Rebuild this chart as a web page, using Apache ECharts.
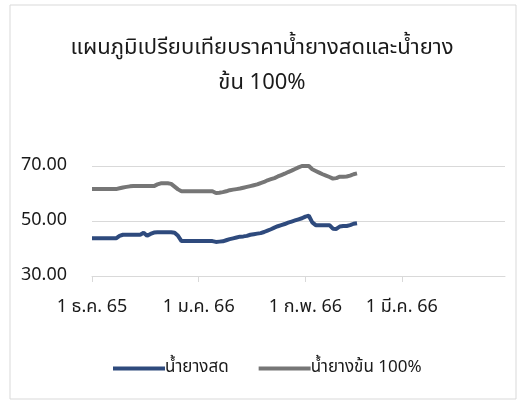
<!DOCTYPE html>
<html>
<head>
<meta charset="utf-8">
<script src="https://cdn.jsdelivr.net/npm/echarts@6/dist/echarts.min.js"></script>
<style>
    html, body { margin: 0; padding: 0; background: #fff; }
    #chart { width: 524px; height: 407px; }
</style>
</head>
<body>
<div id="chart"></div>
<script>
// ข้อมูล (อ่านจากภาพ) - ราคารายวันเริ่ม 1 ธ.ค. 65
const seriesNames = ['น้ำยางสด', 'น้ำยางข้น 100%']
const freshLatex = [
    43.7, 43.7, 43.7, 43.7, 43.7, 43.7, 43.7, 43.7,
    44.6, 45.0, 45.0, 45.0, 45.0, 45.0, 45.0,
    45.7, 44.6, 45.3, 45.8, 45.9, 45.9, 45.9, 45.9, 45.9, 45.7, 44.6,
    42.7, 42.7, 42.7, 42.7, 42.7, 42.7, 42.7, 42.7, 42.7, 42.7,
    42.4, 42.5, 42.6, 43.0, 43.4, 43.7, 44.0, 44.3, 44.4, 44.6, 45.0, 45.2, 45.4, 45.6,
    46.0, 46.5, 47.0, 47.6, 48.1, 48.5, 48.9, 49.4, 49.8, 50.2, 50.6, 51.0, 51.6, 51.9,
    49.5, 48.5, 48.5, 48.5, 48.5, 48.5, 47.2, 47.1, 48.0, 48.2, 48.2, 48.5, 49.0, 49.2
]
const concLatex = [
    61.6, 61.6, 61.6, 61.6, 61.6, 61.6, 61.6, 61.6,
    61.9, 62.2, 62.4, 62.6,
    62.7, 62.7, 62.7, 62.7, 62.7, 62.7, 62.7,
    63.3, 63.7, 63.7, 63.7, 63.5,
    62.5, 61.5, 60.8,
    60.8, 60.8, 60.8, 60.8, 60.8, 60.8, 60.8, 60.8, 60.8,
    60.2, 60.3, 60.5, 60.8, 61.2, 61.4, 61.6, 61.8, 62.1, 62.4, 62.7, 63.0,
    63.3, 63.8, 64.2, 64.8, 65.2, 65.6, 66.2, 66.7, 67.2, 67.8, 68.3, 68.9, 69.5, 70.0, 70.1, 70.0,
    68.8, 68.2, 67.6, 67.0, 66.5, 66.0, 65.4, 65.6, 66.1, 66.1, 66.2, 66.5, 67.0, 67.3
]
const monthLabels = {
    '2022-12-01': '1 ธ.ค. 65',
    '2023-01-01': '1 ม.ค. 66',
    '2023-02-01': '1 ก.พ. 66',
    '2023-03-01': '1 มี.ค. 66'
}

// แกนวันที่ 1 ธ.ค. 65 - 31 มี.ค. 66
const days = []
for (let t = Date.UTC(2022, 11, 1); t <= Date.UTC(2023, 2, 31); t += 86400000) {
    days.push(new Date(t).toISOString().slice(0, 10))
}

const thaiFont = 'Tahoma, "Noto Sans Thai", "Noto Sans", sans-serif'
const textColor = '#1a1a1a'
const chartInstance = echarts.init(document.getElementById('chart'))

const option = {
    animation: false,
    backgroundColor: '#fff',
    title: {
        text: 'แผนภูมิเปรียบเทียบราคาน้ำยางสดและน้ำยาง\nข้น 100%',
        left: 'center',
        top: 27,
        textStyle: {
            fontFamily: thaiFont,
            fontSize: 22,
            fontWeight: 'normal',
            color: textColor,
            lineHeight: 35
        }
    },
    graphic: [{
        type: 'rect',
        shape: { x: 10, y: 5, width: 506, height: 394 },
        style: { fill: 'none', stroke: '#d9d9d9', lineWidth: 1 },
        silent: true
    }],
    legend: {
        data: seriesNames,
        left: 108,
        top: 355,
        icon: 'rect',
        itemWidth: 52,
        itemHeight: 4,
        itemGap: 30,
        textStyle: {
            fontFamily: thaiFont,
            fontSize: 17,
            color: textColor,
            padding: [0, 0, 0, -5]
        }
    },
    grid: {
        left: 92,
        right: 19,
        top: 166,
        bottom: 131,
        containLabel: false
    },
    xAxis: {
        type: 'category',
        boundaryGap: false,
        data: days,
        axisLine: { lineStyle: { color: '#d9d9d9', width: 1 } },
        axisTick: {
            show: true,
            length: 6,
            interval: (i, v) => !!monthLabels[v],
            lineStyle: { color: '#d9d9d9' }
        },
        axisLabel: {
            interval: (i, v) => !!monthLabels[v],
            formatter: v => monthLabels[v] || '',
            fontFamily: thaiFont,
            fontSize: 18,
            color: textColor,
            margin: 23
        },
        splitLine: { show: false }
    },
    yAxis: {
        type: 'value',
        min: 30,
        max: 70,
        interval: 20,
        axisLine: { show: false },
        axisTick: { show: false },
        axisLabel: {
            formatter: v => v.toFixed(2),
            fontFamily: thaiFont,
            fontSize: 18,
            color: textColor,
            margin: 25
        },
        splitLine: { lineStyle: { color: '#d9d9d9', width: 1 } }
    },
    series: [
        {
            name: seriesNames[0],
            type: 'line',
            data: freshLatex,
            symbol: 'none',
            lineStyle: { color: '#2e4a7d', width: 4 },
            itemStyle: { color: '#2e4a7d' }
        },
        {
            name: seriesNames[1],
            type: 'line',
            data: concLatex,
            symbol: 'none',
            lineStyle: { color: '#767676', width: 4 },
            itemStyle: { color: '#767676' }
        }
    ]
}
chartInstance.setOption(option)
</script>
</body>
</html>
